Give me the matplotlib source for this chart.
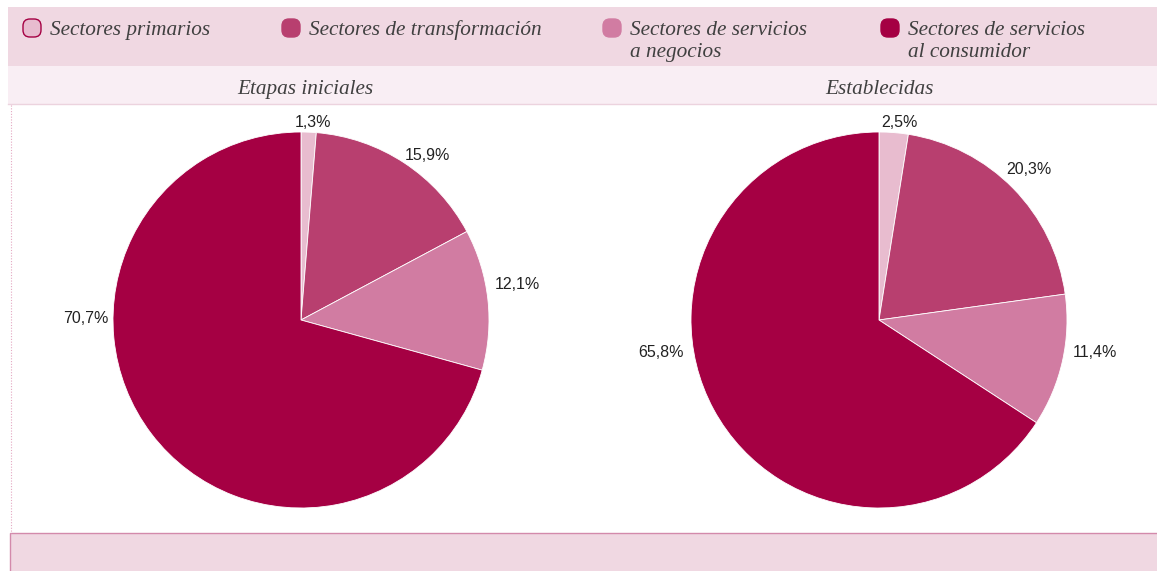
import numpy as np
import matplotlib.pyplot as plt
from matplotlib.patches import Rectangle, FancyBboxPatch
from matplotlib.lines import Line2D

W, H = 1157, 571

categories = ["Sectores primarios", "Sectores de transformación",
              "Sectores de servicios\na negocios", "Sectores de servicios\nal consumidor"]
panel_titles = ["Etapas iniciales", "Establecidas"]
etapas_iniciales = [1.3, 15.9, 12.1, 70.7]
establecidas = [2.5, 20.3, 11.4, 65.8]

colors = ["#e8bccf", "#b83f6f", "#d17ca2", "#a50043"]
BAND = "#f0d8e2"
SUBBAND = "#f9eef4"

SERIF = ["Liberation Serif", "DejaVu Serif"]
SANS = ["Liberation Sans", "DejaVu Sans"]

# label placement (angle clockwise from 12 o'clock, distance in radii)
label_angles = [[3.5, 37.4, 80.3, 270.8], [5.8, 44.6, 98.2, 261.9]]
label_dists = [[1.06, 1.11, 1.165, 1.144], [1.064, 1.134, 1.16, 1.17]]

fig = plt.figure(figsize=(W / 100, H / 100), dpi=100)


def px_rect(x0, y0, x1, y1, **kw):
    """rectangle in pixel coords measured from the top-left corner"""
    fig.patches.append(Rectangle((x0 / W, 1 - y1 / H), (x1 - x0) / W, (y1 - y0) / H,
                                 transform=fig.transFigure, **kw))


# background bands
px_rect(8, 7, W, 66, facecolor=BAND, edgecolor="none")
px_rect(8, 66, W, 104, facecolor=SUBBAND, edgecolor="none")
fig.lines.append(Line2D([8 / W, 1], [1 - 104 / H] * 2, transform=fig.transFigure,
                        color="#ecd3de", lw=1))
fig.lines.append(Line2D([10.5 / W] * 2, [1 - 105 / H, 1 - 533 / H], transform=fig.transFigure,
                        color="#e4a9c2", lw=0.8, ls=(0, (1, 1.5))))
px_rect(10, 533, W + 2, H + 2, facecolor=BAND, edgecolor="#d38aab", lw=1)

# legend
leg_x = [23, 282, 603, 881]
for x, name, c in zip(leg_x, categories, colors):
    edge = "#a50043" if c == colors[0] else c
    fig.patches.append(FancyBboxPatch((x / W, 1 - 37 / H), 18 / W, 18 / H,
                                      boxstyle="round,pad=0,rounding_size=0.006",
                                      transform=fig.transFigure, facecolor=c,
                                      edgecolor=edge, lw=1, mutation_aspect=W / H))
    for k, line in enumerate(name.split("\n")):
        fig.text((x + 27) / W, 1 - (35 + 22 * k) / H, line, family=SERIF, style="italic",
                 fontsize=15.3, color="#404040", ha="left", va="baseline")

R = 188.0
centers = [(301, 320), (879, 320)]
title_x = [305, 879]

for i, (vals, (cx, cy)) in enumerate(zip([etapas_iniciales, establecidas], centers)):
    fig.text(title_x[i] / W, 1 - 94 / H, panel_titles[i], family=SERIF, style="italic",
             fontsize=15.3, color="#404040", ha="center", va="baseline")
    x0, x1 = (cx - 280, cx + 275)
    y0, y1 = 106, 532
    ax = fig.add_axes([x0 / W, 1 - y1 / H, (x1 - x0) / W, (y1 - y0) / H])
    ax.pie(vals, colors=colors, startangle=90, counterclock=False, radius=1,
           wedgeprops=dict(edgecolor="white", linewidth=0.6))
    ax.set_aspect("auto")
    ax.set_xlim((x0 - cx) / R, (x1 - cx) / R)
    ax.set_ylim((cy - y1) / R, (cy - y0) / R)
    ax.axis("off")
    for j, v in enumerate(vals):
        t = np.radians(label_angles[i][j])
        d = label_dists[i][j]
        ax.text(d * np.sin(t), d * np.cos(t), f"{v:.1f}%".replace(".", ","),
                family=SANS, fontsize=11.5, color="#222222", ha="center",
                va="center_baseline")

fig.savefig("out.png", dpi=100)
